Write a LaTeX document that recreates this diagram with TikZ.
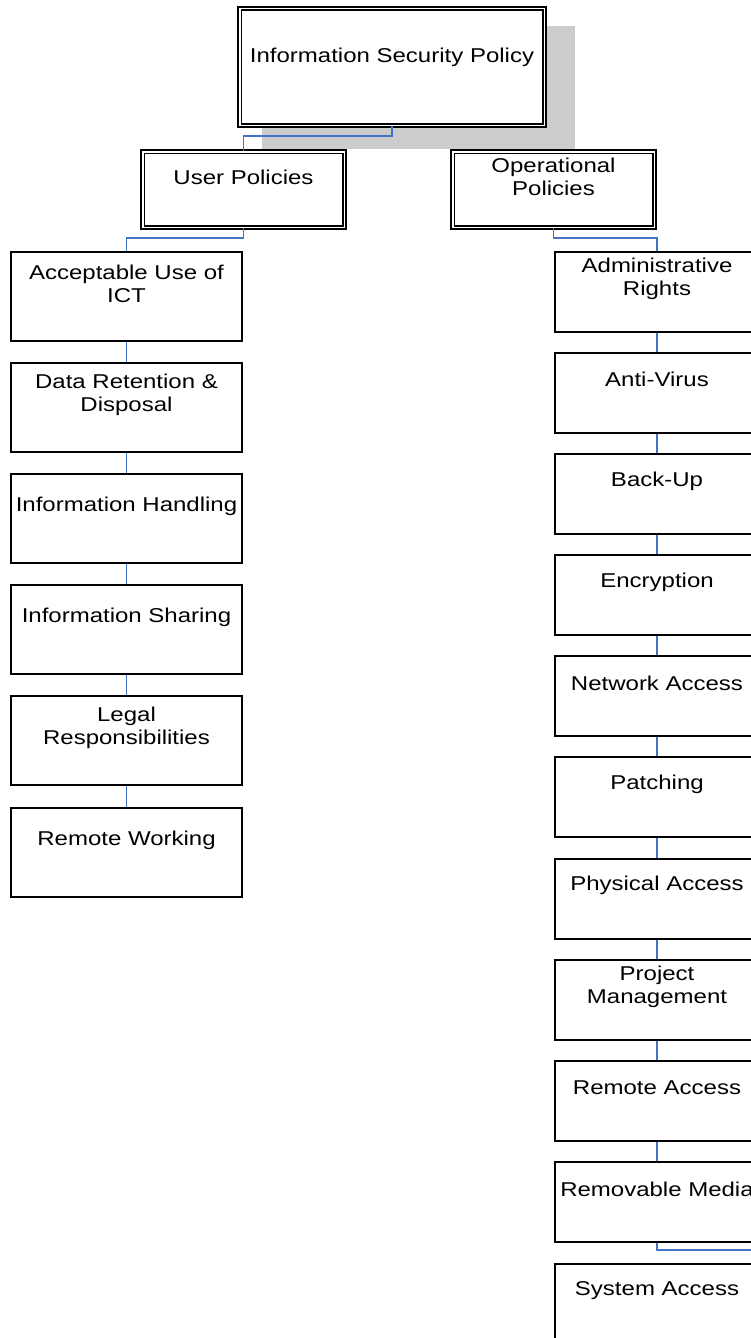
\documentclass[tikz,border=0pt]{standalone}
\usepackage{fontspec}
\setmainfont{Liberation Sans}[FakeStretch=1.2]
\begin{document}
\begin{tikzpicture}[x=1pt,y=-1pt,
  conn/.style={draw={rgb,255:red,68;green,114;blue,196}, line width=1.8pt},
  sbox/.style={draw=black, fill=white, line width=2pt, anchor=north, minimum width=231pt, minimum height=89pt, inner sep=0pt},
  rbox/.style={sbox, minimum width=205pt, minimum height=80pt},
  dbox/.style={draw=black, fill=white, double=white, double distance=1.8pt, line width=1.7pt, inner sep=0pt},
  lbl/.style={align=center, inner sep=0pt, font=\fontsize{20}{23}\selectfont}
]
\useasboundingbox (0,0) rectangle (751,1338);
\clip (0,0) rectangle (751,1338);
\fill[gray!40] (262,26) rectangle (575,149);
% top level
\node[dbox, minimum width=304.8pt, minimum height=116.8pt] (top) at (392,67) {};
\node[lbl] (ttop) at (392,57) {Information Security Policy};
\node[dbox, minimum width=201.8pt, minimum height=75.8pt] (up) at (243.5,189.5) {};
\node[lbl] (tup) at (243.5,177) {User Policies};
\node[dbox, minimum width=201.8pt, minimum height=75.8pt] (op) at (553.5,189.5) {};
\node[lbl] (top2) at (553.5,177) {Operational\\Policies};
% left column
\node[sbox] (l1) at (126.5,251) {};
\node[sbox] (l2) at (126.5,362) {};
\node[sbox] (l3) at (126.5,473) {};
\node[sbox] (l4) at (126.5,584) {};
\node[sbox] (l5) at (126.5,695) {};
\node[sbox] (l6) at (126.5,807) {};
\node[lbl] (tl1) at ([yshift=-33pt]l1.north) {Acceptable Use of\\ICT};
\node[lbl] (tl2) at ([yshift=-33pt]l2.north) {Data Retention \&\\Disposal};
\node[lbl] (tl3) at ([yshift=-33pt]l3.north) {Information Handling};
\node[lbl] (tl4) at ([yshift=-33pt]l4.north) {Information Sharing};
\node[lbl] (tl5) at ([yshift=-33pt]l5.north) {Legal\\Responsibilities};
\node[lbl] (tl6) at ([yshift=-33pt]l6.north) {Remote Working};
% right column
\node[rbox] (r1) at (657,251) {};
\node[rbox] (r2) at (657,351.5) {};
\node[rbox] (r3) at (657,453) {};
\node[rbox] (r4) at (657,554) {};
\node[rbox] (r5) at (657,655) {};
\node[rbox] (r6) at (657,756) {};
\node[rbox] (r7) at (657,857.5) {};
\node[rbox] (r8) at (657,958.5) {};
\node[rbox] (r9) at (657,1060) {};
\node[rbox] (r10) at (657,1161) {};
\node[rbox] (r11) at (657,1262.5) {};
\node[lbl] (tr1) at ([yshift=-28pt]r1.north) {Administrative\\Rights};
\node[lbl] (tr2) at ([yshift=-28pt]r2.north) {Anti-Virus};
\node[lbl] (tr3) at ([yshift=-28pt]r3.north) {Back-Up};
\node[lbl] (tr4) at ([yshift=-28pt]r4.north) {Encryption};
\node[lbl] (tr5) at ([yshift=-28pt]r5.north) {Network Access};
\node[lbl] (tr6) at ([yshift=-28pt]r6.north) {Patching};
\node[lbl] (tr7) at ([yshift=-28pt]r7.north) {Physical Access};
\node[lbl] (tr8) at ([yshift=-28pt]r8.north) {Project\\Management};
\node[lbl] (tr9) at ([yshift=-28pt]r9.north) {Remote Access};
\node[lbl] (tr10) at ([yshift=-28pt]r10.north) {Removable Media};
\node[lbl] (tr11) at ([yshift=-28pt]r11.north) {System Access};
% connectors
\coordinate (off) at (790,1250);
\draw[conn] (top.south) -- ++(0,9.5) -| (up.north);
\draw[conn] (up.south) -- ++(0,9.5) -| (l1.north);
\draw[conn] (op.south) -- ++(0,9.5) -| (r1.north);
\foreach \a/\b in {l1/l2,l2/l3,l3/l4,l4/l5,l5/l6,r1/r2,r2/r3,r3/r4,r4/r5,r5/r6,r6/r7,r7/r8,r8/r9,r9/r10}
  \draw[conn] (\a.south) -- (\b.north);
\draw[conn] (r10.south) |- (off);
\end{tikzpicture}
\end{document}
